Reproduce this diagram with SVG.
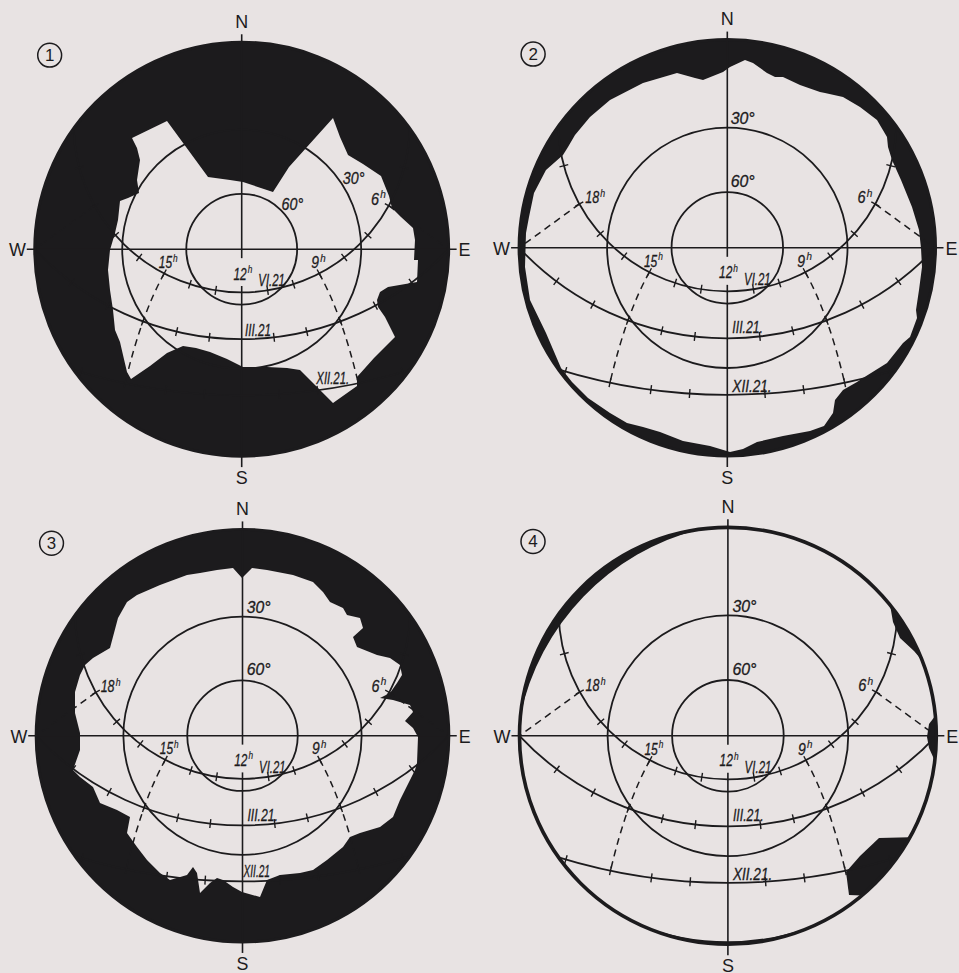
<svg xmlns="http://www.w3.org/2000/svg" xmlns:xlink="http://www.w3.org/1999/xlink" width="959" height="973" viewBox="0 0 959 973">
<style>
.bg{fill:#e8e3e3}
.ink{fill:#1c1b1d}
.sky{fill:#e8e3e3}
.ln{fill:none;stroke:#1c1b1d;stroke-width:1.8}
.ax{fill:none;stroke:#1c1b1d;stroke-width:1.6}
.tk{fill:none;stroke:#1c1b1d;stroke-width:1.4}
.ds{fill:none;stroke:#1c1b1d;stroke-width:1.5;stroke-dasharray:7 5}
.ol{fill:none;stroke:#1c1b1d;stroke-width:3}
.ol4{fill:none;stroke:#1c1b1d;stroke-width:3.6}
.lb{font-family:"Liberation Sans",Arial,sans-serif;font-style:italic;font-size:16.5px;fill:#1c1b1d;stroke:#1c1b1d;stroke-width:0.3}
.sp{font-size:11.5px;stroke-width:0.2}
.cp{font-family:"Liberation Sans",Arial,sans-serif;font-size:18px;fill:#1c1b1d}
.nm{font-family:"Liberation Sans",Arial,sans-serif;font-size:17px;fill:#1c1b1d;text-anchor:middle}
.nc{fill:none;stroke:#1c1b1d;stroke-width:1.5}
</style>
<defs>
<g id="grid">
<circle r="120.1" class="ln"/>
<circle r="55.7" class="ln"/>
<line x1="-216" y1="0" x2="216" y2="0" class="ax"/>
<line x1="0" y1="-216" x2="0" y2="9" class="ax"/>
<line x1="0" y1="37" x2="0" y2="219" class="ax"/>
<path class="ln" d="M-168.9,-121.4 A168.95,168.95 0 0 0 168.9,-121.4"/>
<path class="ln" d="M-208,0 A284.42,284.42 0 0 0 208,0"/>
<path class="ln" d="M-168.9,121.4 A572.65,572.65 0 0 0 168.9,121.4"/>
<path class="tk" d="M25.37,36.9L26.75,45.8M50.67,30.88L53.45,39.44M75.79,20.39L79.93,28.37M100.3,4.76L105.8,11.9M123.52,-16.950L130.28,-11.01M143.86,-45.89L151.74,-41.53M158.92,-83.14L167.62,-80.82M-25.37,36.9L-26.75,45.8M-50.67,30.88L-53.45,39.44M-75.79,20.39L-79.93,28.37M-100.3,4.76L-105.8,11.9M-123.52,-16.95L-130.28,-11.01M-143.86,-45.89L-151.74,-41.53M-158.92,-83.14L-167.62,-80.82M31.94,84.12L32.96,93.06M64.35,78.45L66.41,87.21M97.66,68.36L100.8,76.8M132.2,52.75L136.46,60.69M168.07,29.87L173.47,37.07M-31.94,84.12L-32.96,93.06M-64.35,78.45L-66.41,87.21M-97.66,68.36L-100.8,76.8M-132.2,52.75L-136.46,60.69M-168.07,29.87L-173.47,37.07M37.31,141.1L37.91,150.08M75.68,137.27L76.88,146.19M116.28,130.32L118.12,139.12M160.43,119.18L162.97,127.82M-37.31,141.1L-37.91,150.08M-75.68,137.27L-76.88,146.19M-116.28,130.32L-118.12,139.12M-160.43,119.18L-162.97,127.82"/>
<path class="ds" d="M77.86,24.38 Q100.93,65.61 117.2,134.72"/>
<path class="ds" d="M-77.86,24.38 Q-100.93,65.61 -117.2,134.72"/>
<path class="ds" d="M147.8,-43.71 L208,0"/>
<path class="ds" d="M-147.8,-43.71 L-208,0"/>
<text class="cp" x="0" y="-222.5" text-anchor="middle">N</text>
<text class="cp" x="0" y="236" text-anchor="middle">S</text>
<text class="cp" x="-217" y="7" text-anchor="end">W</text>
<text class="cp" x="218" y="7">E</text>
</g>
<g id="common">
<text class="lb" x="130" y="-44.5" textLength="15" lengthAdjust="spacingAndGlyphs">6<tspan class="sp" dx="1.5" dy="-6.5">h</tspan></text>
<text class="lb" x="-83.3" y="18.9" textLength="19" lengthAdjust="spacingAndGlyphs">15<tspan class="sp" dx="1.5" dy="-6.5">h</tspan></text>
<text class="lb" x="70" y="18.9" textLength="14.5" lengthAdjust="spacingAndGlyphs">9<tspan class="sp" dx="1.5" dy="-6.5">h</tspan></text>
<text class="lb" x="-8.3" y="30.5" textLength="19" lengthAdjust="spacingAndGlyphs">12<tspan class="sp" dx="1.5" dy="-6.5">h</tspan></text>
<text class="lb" x="16.7" y="37.2" textLength="26.7" lengthAdjust="spacingAndGlyphs">VI.21</text>
</g>
</defs>
<rect width="959" height="973" class="bg"/>

<g id="diagram1">
<circle cx="241.7" cy="249.2" r="207" class="ink"/>
<polygon class="sky" points="132,138 167,121 208,177 230,180 243,182 273,192 289,167 333,118 340,137 348,155 363,164 381,176 389,196 392,208 401,217 413,228 415,240 414,260 418,260 417,282 388,287 380,292 377,300 378,307 385,317 395,337 374,358 357,377 357,386 333,403 318,388 300,370 287,368 267,367 243,367 227,359 210,352 196,348 183,346 167,353 150,366 131,379 127,372 123,355 120,342 115,330 113,310 110,290 108,270 110,250 115,233 118,220 120,201 128,198 139,193 137,180 140,160 137,148"/>
<g transform="translate(241.7,249.2) scale(0.995)">
<use xlink:href="#grid"/>
<circle r="208" class="ol"/>
<use xlink:href="#common"/>
<text class="lb" x="101.6" y="-65.9" textLength="21.7" lengthAdjust="spacingAndGlyphs">30°</text>
<text class="lb" x="40" y="-39.2" textLength="21.7" lengthAdjust="spacingAndGlyphs">60°</text>
<text class="lb" x="3.3" y="87.5" textLength="26" lengthAdjust="spacingAndGlyphs">III.21</text>
<text class="lb" x="75" y="135.8" textLength="33" lengthAdjust="spacingAndGlyphs">XII.21.</text>
<circle cx="-193" cy="-195" r="12" class="nc"/><text class="nm" x="-193" y="-189">1</text>
</g>
</g>

<g id="diagram2">
<circle cx="727.3" cy="247.8" r="208.3" class="ink"/>
<polygon class="sky" points="563,155 568,147 575,135 590,117 610,100 643,83 677,73 695,78 703,80 723,72 730,67 745,60 753,63 767,73 775,77 783,77 800,85 820,92 825,93 843,97 860,107 877,120 887,137 888,147 892,160 901,180 912,207 919,230 921,248 922,267 919,290 916,310 917,318 910,337 903,343 887,363 863,378 857,382 843,390 835,400 833,413 824,426 810,431 783,436 757,442 743,449 730,452 710,446 683,441 660,432 643,427 627,423 610,413 588,398 572,382 561,368 546,333 530,300 525,267 526,233 529,217 534,193 546,170"/>
<g transform="translate(727.3,247.8) scale(1.001)">
<use xlink:href="#grid"/>
<circle r="208" class="ol"/>
<use xlink:href="#common"/>
<text class="lb" x="3.4" y="-124" textLength="24" lengthAdjust="spacingAndGlyphs">30°</text>
<text class="lb" x="3.4" y="-61" textLength="24" lengthAdjust="spacingAndGlyphs">60°</text>
<text class="lb" x="-142" y="-44.5" textLength="20" lengthAdjust="spacingAndGlyphs">18<tspan class="sp" dx="1.5" dy="-6.5">h</tspan></text>
<text class="lb" x="5" y="85.5" textLength="30.7" lengthAdjust="spacingAndGlyphs">III.21.</text>
<text class="lb" x="5" y="143.9" textLength="39.3" lengthAdjust="spacingAndGlyphs">XII.21.</text>
<circle cx="-194" cy="-193.5" r="12" class="nc"/><text class="nm" x="-194" y="-187.5">2</text>
</g>
</g>

<g id="diagram3">
<circle cx="242.5" cy="735.7" r="206.3" class="ink"/>
<polygon class="sky" points="242,578 252,568 267,570 293,575 313,582 323,592 330,602 343,608 347,615 360,618 363,628 353,637 357,647 377,655 390,658 400,665 402,675 397,683 390,693 380,698 393,700 410,705 413,712 405,721 413,728 418,737 417,763 415,770 410,780 400,800 393,817 380,827 360,833 350,837 343,847 327,860 313,870 300,873 280,875 267,880 260,897 242,892 233,887 223,880 217,878 210,883 200,893 197,873 193,867 187,875 170,880 160,873 147,860 137,847 127,833 130,817 117,810 100,803 93,787 80,777 73,770 80,750 80,733 75,713 75,692 80,675 85,665 93,658 110,648 118,618 127,602 137,595 160,585 187,575 200,573 217,570 233,568"/>
<g transform="translate(242.5,735.7) scale(0.992)">
<use xlink:href="#grid"/>
<circle r="208" class="ol"/>
<use xlink:href="#common"/>
<text class="lb" x="4.2" y="-124" textLength="24" lengthAdjust="spacingAndGlyphs">30°</text>
<text class="lb" x="4.2" y="-61" textLength="24" lengthAdjust="spacingAndGlyphs">60°</text>
<text class="lb" x="-143" y="-44" textLength="20" lengthAdjust="spacingAndGlyphs">18<tspan class="sp" dx="1.5" dy="-6.5">h</tspan></text>
<text class="lb" x="5" y="85.5" textLength="30.7" lengthAdjust="spacingAndGlyphs">III.21.</text>
<text class="lb" x="1" y="142.6" textLength="26.7" lengthAdjust="spacingAndGlyphs">XII.21</text>
<circle cx="-192.5" cy="-194" r="12" class="nc"/><text class="nm" x="-192.5" y="-188">3</text>
</g>
</g>

<g id="diagram4">
<path class="ink" d="M700,529.2 A208.5,208.5 0 0 0 520.3,715.8 A244.6,244.6 0 0 1 700,529.2 Z"/>
<path class="ink" d="M890,604.8 A208.5,208.5 0 0 1 922.3,660.8 L914,651 L900,638 L893,622 Z"/>
<path class="ink" d="M935.3,715.8 A208.5,208.5 0 0 1 934.8,760.8 L929,748 L927,737 L929,724 Z"/>
<path class="ink" d="M879,838 L909.4,837.3 A208.5,208.5 0 0 1 862,895.5 L849,895 L846,872 L860,856 Z"/>
<path class="ink" d="M637.8,923.9 A208.5,208.5 0 0 0 817.8,923.9 A241.5,241.5 0 0 1 637.8,923.9 Z"/>
<g transform="translate(727.9,735.8) scale(1.002)">
<use xlink:href="#grid"/>
<circle r="208" class="ol4"/>
<use xlink:href="#common"/>
<text class="lb" x="4.5" y="-124" textLength="24" lengthAdjust="spacingAndGlyphs">30°</text>
<text class="lb" x="4.5" y="-61" textLength="24" lengthAdjust="spacingAndGlyphs">60°</text>
<text class="lb" x="-142" y="-44.5" textLength="20" lengthAdjust="spacingAndGlyphs">18<tspan class="sp" dx="1.5" dy="-6.5">h</tspan></text>
<text class="lb" x="5" y="85.5" textLength="30.7" lengthAdjust="spacingAndGlyphs">III.21.</text>
<text class="lb" x="5" y="143.9" textLength="39.3" lengthAdjust="spacingAndGlyphs">XII.21.</text>
<circle cx="-194.5" cy="-194" r="12" class="nc"/><text class="nm" x="-194.5" y="-188">4</text>
</g>
</g>
</svg>
